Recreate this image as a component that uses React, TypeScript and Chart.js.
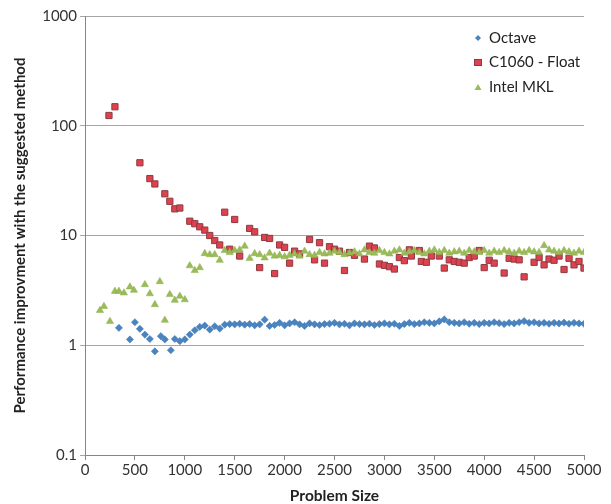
import React, { useEffect, useRef } from "react";
import { Chart, registerables } from "chart.js";

Chart.register(...registerables);

const seriesNames = ["Octave", "C1060 - Float", "Intel MKL"];
const xTicks = [0, 500, 1000, 1500, 2000, 2500, 3000, 3500, 4000, 4500, 5000];
const yTicks = [0.1, 1, 10, 100, 1000];

const octavePoints: number[][] = [
  [340, 1.44], [450, 1.13], [500, 1.62], [550, 1.41], [600, 1.25], [650, 1.14], [700, 0.88], [760, 1.21],
  [800, 1.13], [860, 0.9], [900, 1.14], [950, 1.09], [1000, 1.13], [1050, 1.25], [1100, 1.37], [1150, 1.47],
  [1200, 1.51], [1250, 1.39], [1300, 1.49], [1350, 1.42], [1400, 1.54], [1450, 1.56], [1500, 1.55], [1550, 1.57],
  [1600, 1.54], [1650, 1.56], [1700, 1.52], [1750, 1.55], [1800, 1.71], [1850, 1.5], [1900, 1.53], [1950, 1.6],
  [2000, 1.52], [2050, 1.58], [2100, 1.62], [2150, 1.55], [2200, 1.5], [2250, 1.58], [2300, 1.55], [2350, 1.53],
  [2400, 1.56], [2450, 1.57], [2500, 1.6], [2550, 1.55], [2600, 1.57], [2650, 1.52], [2700, 1.58], [2750, 1.56],
  [2800, 1.55], [2850, 1.57], [2900, 1.53], [2950, 1.56], [3000, 1.58], [3050, 1.55], [3100, 1.57], [3150, 1.5],
  [3200, 1.56], [3250, 1.6], [3300, 1.56], [3350, 1.58], [3400, 1.62], [3450, 1.6], [3500, 1.58], [3550, 1.65],
  [3600, 1.72], [3650, 1.62], [3700, 1.6], [3750, 1.58], [3800, 1.62], [3850, 1.57], [3900, 1.6], [3950, 1.56],
  [4000, 1.6], [4050, 1.58], [4100, 1.62], [4150, 1.59], [4200, 1.56], [4250, 1.6], [4300, 1.58], [4350, 1.62],
  [4400, 1.66], [4450, 1.6], [4500, 1.62], [4550, 1.58], [4600, 1.6], [4650, 1.57], [4700, 1.6], [4750, 1.58],
  [4800, 1.61], [4850, 1.57], [4900, 1.6], [4950, 1.58], [5000, 1.57],
];

const c1060Points: number[][] = [
  [240, 124], [300, 149], [550, 46], [650, 33], [700, 29.5], [800, 24], [850, 20.5], [900, 17.5],
  [950, 17.8], [1050, 13.5], [1100, 12.8], [1150, 12], [1200, 11.2], [1250, 10], [1300, 9], [1350, 8.2],
  [1400, 16.3], [1450, 7.5], [1500, 14], [1550, 6.5], [1650, 11.6], [1700, 10.8], [1750, 5.1], [1800, 9.6],
  [1850, 9.4], [1900, 4.5], [1950, 8.2], [2000, 7.8], [2050, 5.6], [2100, 7.2], [2150, 6.8], [2250, 9.2],
  [2300, 6.0], [2350, 8.6], [2400, 5.6], [2450, 7.9], [2500, 7.5], [2550, 7.2], [2600, 4.8], [2650, 7.0],
  [2700, 6.6], [2800, 6.1], [2850, 8.0], [2900, 7.7], [2950, 5.5], [3000, 5.35], [3050, 5.2], [3100, 4.95],
  [3150, 6.3], [3200, 5.9], [3250, 7.4], [3270, 6.5], [3350, 7.3], [3370, 5.8], [3420, 5.7], [3470, 6.5],
  [3550, 6.5], [3600, 5.05], [3650, 6.0], [3700, 5.8], [3750, 5.7], [3800, 5.6], [3850, 6.3], [3900, 6.5],
  [3950, 7.3], [4000, 5.1], [4050, 5.95], [4100, 5.6], [4200, 4.55], [4250, 6.2], [4300, 6.1], [4350, 6.0],
  [4400, 4.2], [4500, 5.7], [4550, 6.3], [4600, 5.4], [4650, 6.1], [4700, 5.95], [4750, 6.5], [4800, 4.9],
  [4850, 6.2], [4900, 5.4], [4950, 5.8], [5000, 5.05],
];

const mklPoints: number[][] = [
  [150, 2.08], [190, 2.26], [250, 1.65], [300, 3.1], [340, 3.1], [390, 3.0], [450, 3.4], [490, 3.17],
  [600, 3.57], [650, 2.95], [700, 2.35], [750, 3.8], [800, 1.69], [850, 2.9], [900, 2.57], [950, 2.8],
  [1000, 2.6], [1050, 5.3], [1100, 4.8], [1150, 5.1], [1200, 6.85], [1250, 6.7], [1300, 6.7], [1350, 5.95],
  [1400, 7.3], [1450, 7.0], [1500, 7.3], [1550, 7.4], [1600, 8.0], [1650, 6.2], [1700, 6.85], [1750, 6.7],
  [1800, 6.25], [1850, 6.9], [1900, 6.5], [1950, 6.6], [2000, 6.4], [2050, 6.6], [2100, 6.8], [2150, 6.5],
  [2200, 7.2], [2250, 6.7], [2300, 6.6], [2350, 7.0], [2400, 6.8], [2450, 6.9], [2500, 7.2], [2550, 7.0],
  [2600, 6.7], [2650, 6.9], [2700, 7.1], [2750, 6.8], [2800, 7.4], [2850, 7.0], [2900, 6.9], [2950, 7.3],
  [3000, 7.0], [3050, 6.8], [3100, 7.2], [3150, 7.4], [3200, 6.9], [3250, 7.1], [3300, 7.3], [3350, 7.0],
  [3400, 6.8], [3450, 7.2], [3500, 7.4], [3550, 7.0], [3600, 7.3], [3650, 6.9], [3700, 7.1], [3750, 7.2],
  [3800, 6.9], [3850, 7.3], [3900, 7.1], [3950, 7.0], [4000, 7.3], [4050, 6.9], [4100, 7.2], [4150, 7.0],
  [4200, 7.3], [4250, 7.1], [4300, 6.9], [4350, 7.2], [4400, 7.0], [4450, 7.3], [4500, 7.1], [4550, 7.0],
  [4600, 8.1], [4650, 7.4], [4700, 7.2], [4750, 7.0], [4800, 7.3], [4850, 7.1], [4900, 6.9], [4950, 7.2],
  [5000, 7.0],
];

const FONT = "Lato, 'Liberation Sans', sans-serif";

const legendPlugin = {
  id: "insideLegend",
  afterDraw(chart: any) {
    const ctx = chart.ctx;
    const items = chart.data.datasets;
    ctx.save();
    items.forEach((ds: any, i: number) => {
      const y = 38 + i * 24.5;
      const x = 478;
      ctx.fillStyle = ds.backgroundColor;
      ctx.strokeStyle = ds.borderColor;
      ctx.lineWidth = 1;
      if (ds.pointStyle === "rectRot") {
        ctx.beginPath();
        ctx.moveTo(x, y - 3);
        ctx.lineTo(x + 3, y);
        ctx.lineTo(x, y + 3);
        ctx.lineTo(x - 3, y);
        ctx.closePath();
        ctx.fill();
      } else if (ds.pointStyle === "rect") {
        ctx.fillRect(x - 3.5, y - 3, 7, 6);
        ctx.strokeRect(x - 3.5, y - 3, 7, 6);
      } else {
        ctx.beginPath();
        ctx.moveTo(x, y - 3);
        ctx.lineTo(x + 3.5, y + 3);
        ctx.lineTo(x - 3.5, y + 3);
        ctx.closePath();
        ctx.fill();
      }
      ctx.fillStyle = "#222";
      ctx.font = `15px ${FONT}`;
      ctx.textBaseline = "middle";
      ctx.textAlign = "left";
      ctx.fillText(ds.label, 489, y);
    });
    ctx.restore();
  },
};

export default function App() {
  const ref = useRef<HTMLCanvasElement | null>(null);
  useEffect(() => {
    if (!ref.current) return;
    const toXY = (arr: number[][]) => arr.map((p) => ({ x: p[0], y: p[1] }));
    const chart = new Chart(ref.current, {
      type: "scatter",
      data: {
        datasets: [
          {
            label: seriesNames[0],
            data: toXY(octavePoints),
            pointStyle: "rectRot",
            pointRadius: 3.6,
            backgroundColor: "#4A84C0",
            borderColor: "#3E74AE",
            borderWidth: 0.5,
            order: 3,
          },
          {
            label: seriesNames[1],
            data: toXY(c1060Points),
            pointStyle: "rect",
            pointRadius: 4.4,
            backgroundColor: "#DE424F",
            borderColor: "#8E3A40",
            borderWidth: 1,
            order: 2,
          },
          {
            label: seriesNames[2],
            data: toXY(mklPoints),
            pointStyle: "triangle",
            pointRadius: 4.2,
            backgroundColor: "#9BBB59",
            borderColor: "#8DB04C",
            borderWidth: 0.5,
            order: 1,
          },
        ],
      },
      options: {
        animation: false,
        responsive: false,
        maintainAspectRatio: false,
        layout: { padding: { top: 16, right: 27, left: 0, bottom: 0 } },
        plugins: { legend: { display: false }, tooltip: { enabled: false } },
        scales: {
          x: {
            type: "linear",
            min: 0,
            max: 5000,
            afterBuildTicks: (s: any) => {
              s.ticks = xTicks.map((v) => ({ value: v }));
            },
            afterFit: (s: any) => {
              s.height = 49;
            },
            ticks: {
              font: { family: FONT, size: 15 },
              color: "#333",
              padding: 1,
              maxRotation: 0,
              autoSkip: false,
              callback: (v: any) => String(v),
            },
            grid: { drawOnChartArea: false, drawTicks: true, tickLength: 5, color: "#868686" },
            border: { color: "#868686", width: 1 },
            title: {
              display: true,
              text: "Problem Size",
              font: { family: FONT, size: 15.5, weight: "bold", lineHeight: 1 },
              color: "#222",
              padding: { top: 0, bottom: 0 },
            },
          },
          y: {
            type: "logarithmic",
            min: 0.1,
            max: 1000,
            afterBuildTicks: (s: any) => {
              s.ticks = yTicks.map((v) => ({ value: v }));
            },
            afterFit: (s: any) => {
              s.width = 85;
            },
            ticks: {
              font: { family: FONT, size: 15 },
              color: "#333",
              padding: 3,
              callback: (v: any) => String(v),
            },
            grid: { drawOnChartArea: true, drawTicks: true, tickLength: 5, color: "#A6A6A6" },
            border: { color: "#868686", width: 1 },
            title: {
              display: true,
              text: "Performance improvment with the suggested method",
              font: { family: FONT, size: 15, weight: "bold", lineHeight: 1 },
              color: "#222",
              padding: { top: 13, bottom: 0 },
            },
          },
        },
      },
      plugins: [legendPlugin],
    } as any);
    return () => chart.destroy();
  }, []);
  return (
    <div style={{ position: "fixed", left: 0, top: 0, width: 611, height: 504, background: "#fff" }}>
      <canvas ref={ref} width={611} height={504} style={{ width: 611, height: 504 }} />
    </div>
  );
}
